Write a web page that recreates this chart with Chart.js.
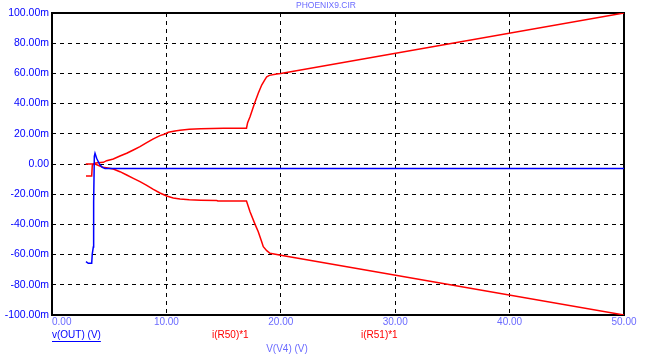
<!DOCTYPE html>
<html>
<head>
<meta charset="utf-8">
<script src="https://cdn.jsdelivr.net/npm/chart.js@4.4.1/dist/chart.umd.min.js"></script>
<style>
html,body{margin:0;padding:0;background:#fff;}
#wrap{position:relative;width:651px;height:360px;}
</style>
</head>
<body>
<div id="wrap"><canvas id="c" width="651" height="360"></canvas></div>
<script>
// ---- data ----
const chartTitle = "PHOENIX9.CIR";
const xAxisTitle = "V(V4) (V)";
const xTicks = [0, 10, 20, 30, 40, 50];
const yTicks = [-100, -80, -60, -40, -20, 0, 20, 40, 60, 80, 100];

const outLabel = "v(OUT) (V)";
const outX = [2.97, 3.17, 3.47, 3.52, 3.61, 3.64, 3.70, 3.76, 3.90, 4.05, 4.20, 4.40, 4.63, 50];
const outY = [-64.7, -65.8, -65.8, -59.6, -55, -25, 5, 7.1, 3.8, 1.5, -0.7, -2.2, -2.9, -2.9];

const r50Label = "i(R50)*1";
const r50X = [2.97, 3.47, 3.52, 3.62, 3.72, 4.0, 4.49, 4.78, 5.36, 5.94, 6.53, 7.11, 7.69, 8.28, 8.86, 9.44, 9.88, 10.17, 10.75, 11.19, 12, 13, 15, 17.0, 17.1, 17.31, 17.7, 18.03, 18.33, 18.56, 18.77, 19.0, 19.64, 20, 50];
const r50Y = [-8, -8, -1, 0, 0.5, 0.9, 1.1, 2.2, 3.3, 5.3, 7.1, 9.3, 11.5, 14.1, 16.6, 18.8, 19.9, 21, 21.9, 22.3, 23.0, 23.4, 23.6, 23.7, 27.4, 31.3, 40, 46.8, 52.3, 55.2, 57.8, 58.7, 59.6, 60, 100];

const r51Label = "i(R51)*1";
const r51X = [2.95, 3.76, 4.34, 4.49, 5.36, 5.94, 6.53, 7.11, 7.69, 8.28, 8.86, 9.44, 10.02, 10.6, 11.19, 12, 13, 14.4, 14.5, 17.0, 17.31, 17.75, 18.03, 18.33, 18.47, 18.77, 19.06, 20, 50];
const r51Y = [0, 0, -1.8, -2.2, -3.3, -5.1, -7.3, -9.5, -11.7, -14.1, -16.8, -19.2, -21.2, -22.5, -23.2, -23.7, -24.0, -24.2, -24.5, -24.5, -31.6, -40, -44.8, -51.5, -54.8, -57.4, -59.1, -60.5, -100];

// ---- styling ----
const BLUE = '#0000ff';
const LIGHT = '#6b6bff';
const RED = '#ff0000';
const FONT = '"Liberation Sans", Arial, sans-serif';

function pts(xs, ys){ return xs.map((x,i)=>({x:x, y:ys[i]})); }

const framePlugin = {
  id: 'frame',
  beforeDatasetsDraw(chart){
    const {ctx, chartArea:a} = chart;
    ctx.save();
    ctx.strokeStyle = '#000';
    ctx.lineWidth = 2;
    ctx.setLineDash([]);
    ctx.strokeRect(a.left, a.top, a.right - a.left, a.bottom - a.top);
    ctx.restore();
  },
  afterDraw(chart){
    const {ctx} = chart;
    ctx.save();
    ctx.textBaseline = 'middle';
    // title
    ctx.font = '8.5px ' + FONT;
    ctx.fillStyle = LIGHT;
    ctx.textAlign = 'center';
    ctx.fillText(chartTitle, 326, 6);
    // series labels
    ctx.font = '10px ' + FONT;
    ctx.textAlign = 'left';
    const items = [
      {t: outLabel, c: BLUE, x: 52, u: true},
      {t: r50Label, c: RED, x: 212, u: false},
      {t: r51Label, c: RED, x: 361, u: false}
    ];
    items.forEach(it => {
      ctx.fillStyle = it.c;
      ctx.fillText(it.t, it.x, 335);
      if (it.u) {
        const w = ctx.measureText(it.t).width;
        ctx.fillRect(it.x, 341, w, 1);
      }
    });
    ctx.fillStyle = LIGHT;
    ctx.textAlign = 'center';
    ctx.fillText(xAxisTitle, 287, 349);
    ctx.restore();
  }
};

new Chart(document.getElementById('c'), {
  type: 'scatter',
  data: {
    datasets: [
      {label: outLabel, data: pts(outX, outY), borderColor: BLUE, backgroundColor: BLUE},
      {label: r50Label, data: pts(r50X, r50Y), borderColor: RED, backgroundColor: RED},
      {label: r51Label, data: pts(r51X, r51Y), borderColor: RED, backgroundColor: RED}
    ]
  },
  options: {
    responsive: false,
    animation: false,
    devicePixelRatio: 1,
    showLine: true,
    elements: {
      point: {radius: 0, hoverRadius: 0},
      line: {borderWidth: 1.5, tension: 0}
    },
    layout: {padding: {left: 0, right: 27, top: 13, bottom: 0}},
    plugins: {
      legend: {display: false},
      tooltip: {enabled: false},
      title: {display: false}
    },
    scales: {
      x: {
        type: 'linear',
        min: 0, max: 50,
        afterBuildTicks(s){ s.ticks = xTicks.map(v => ({value: v})); },
        afterFit(s){ s.height = 45; },
        grid: {color: '#000', lineWidth: 1, drawTicks: false},
        border: {display: false, dash: [4, 4]},
        ticks: {
          color: LIGHT,
          font: {family: FONT, size: 10},
          padding: 1,
          maxRotation: 0,
          autoSkip: false,
          callback: v => (v === 0 ? '       ' : '') + v.toFixed(2)
        }
      },
      y: {
        type: 'linear',
        min: -100, max: 100,
        afterBuildTicks(s){ s.ticks = yTicks.map(v => ({value: v})); },
        afterFit(s){ s.width = 52; },
        grid: {color: '#000', lineWidth: 1, drawTicks: false},
        border: {display: false, dash: [4, 4]},
        ticks: {
          color: BLUE,
          font: {family: FONT, size: 10.5},
          padding: 3,
          autoSkip: false,
          callback: v => v === 0 ? '0.00' : v.toFixed(2) + 'm'
        }
      }
    }
  },
  plugins: [framePlugin]
});
</script>
</body>
</html>
